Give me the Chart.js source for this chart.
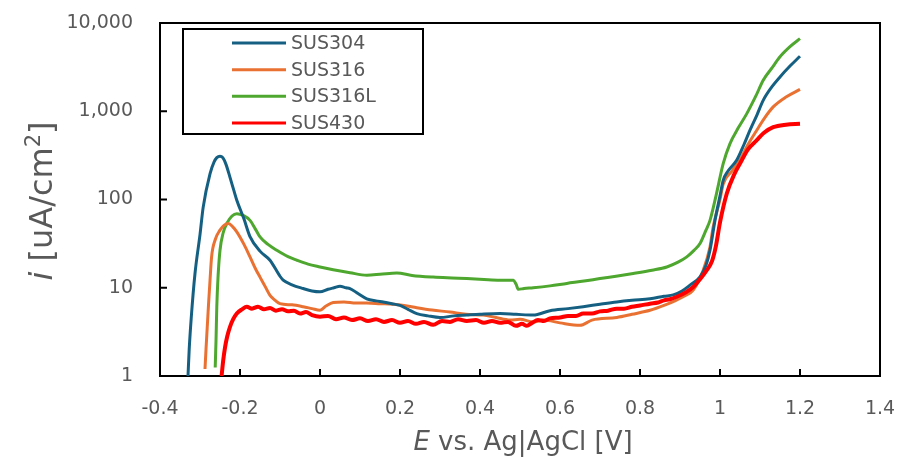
<!DOCTYPE html>
<html>
<head>
<meta charset="utf-8">
<title>Polarization curves</title>
<script src="https://cdn.jsdelivr.net/npm/chart.js@4.4.1/dist/chart.umd.min.js"></script>
<style>
  html, body { margin: 0; padding: 0; background: #ffffff; }
  #wrap { width: 898px; height: 459px; position: relative; }
</style>
</head>
<body>
<div id="wrap"><canvas id="myChart" width="898" height="459"></canvas></div>
<script>
// Series names and colours
const seriesNames = ['SUS304', 'SUS316', 'SUS316L', 'SUS430'];
const seriesColors = ['#156082', '#E97132', '#4EA72E', '#FF0000'];

// Tick values
const xTicks = [-0.4, -0.2, 0, 0.2, 0.4, 0.6, 0.8, 1, 1.2, 1.4];
const yTicks = [1, 10, 100, 1000, 10000];

// SUS304: potential (V) and current density (uA/cm2)
const e304 = [-0.330, -0.327, -0.322, -0.3125, -0.300, -0.292, -0.275, -0.265, -0.258, -0.250, -0.243, -0.235,
  -0.225, -0.215, -0.208, -0.190, -0.175, -0.150, -0.125, -0.100, -0.092, -0.070, -0.042, -0.020, 0.000, 0.020,
  0.035, 0.050, 0.065, 0.075, 0.095, 0.117, 0.140, 0.158, 0.180, 0.200, 0.220, 0.242, 0.270, 0.300, 0.335,
  0.367, 0.400, 0.450, 0.490, 0.533, 0.575, 0.620, 0.658, 0.700, 0.742, 0.780, 0.825, 0.860, 0.883, 0.905,
  0.925, 0.950, 0.965, 0.975, 0.9875, 1.000, 1.008, 1.020, 1.042, 1.060, 1.075, 1.092, 1.108, 1.130, 1.150,
  1.175, 1.200];
const i304 = [1.0, 2.0, 4.5, 14.5, 40, 82, 195, 265, 298, 310, 298, 250,
  178, 125, 98, 60, 38, 26, 20.5, 13.5, 12.2, 10.8, 9.8, 9.2, 9.0, 9.6,
  10.0, 10.4, 10.0, 9.8, 8.6, 7.5, 7.1, 6.9, 6.6, 6.3, 5.7, 5.1, 4.8, 4.6, 4.8,
  4.9, 5.0, 5.1, 5.0, 4.9, 5.5, 5.8, 6.1, 6.5, 6.9, 7.2, 7.5, 8.0, 8.3, 9.2,
  10.7, 13.3, 18, 26.6, 58, 110, 165, 210, 280, 420, 610, 900, 1330, 1900, 2450,
  3250, 4200];

// SUS316
const e316 = [-0.2875, -0.285, -0.282, -0.279, -0.275, -0.271, -0.262, -0.250, -0.240, -0.229, -0.218, -0.208,
  -0.190, -0.175, -0.160, -0.150, -0.138, -0.125, -0.112, -0.100, -0.070, -0.042, -0.020, 0.000, 0.015, 0.033,
  0.060, 0.090, 0.117, 0.150, 0.183, 0.210, 0.242, 0.280, 0.325, 0.365, 0.408, 0.440, 0.475, 0.500, 0.533,
  0.560, 0.600, 0.650, 0.680, 0.742, 0.780, 0.825, 0.860, 0.890, 0.910, 0.933, 0.958, 0.975, 0.983, 1.000,
  1.008, 1.030, 1.050, 1.070, 1.092, 1.110, 1.133, 1.165, 1.200];
const i316 = [1.2, 2.0, 3.5, 6.1, 12, 22.4, 35, 45, 51, 53.5, 49, 43,
  31, 22.4, 16, 13.2, 10.5, 8.2, 7.2, 6.6, 6.4, 6.1, 5.8, 5.55, 6.2, 6.8,
  6.9, 6.7, 6.7, 6.6, 6.5, 6.3, 5.95, 5.6, 5.3, 5.0, 4.9, 4.6, 4.3, 4.4, 4.1,
  4.3, 4.0, 3.75, 4.3, 4.6, 5.0, 5.55, 6.3, 7.2, 8.0, 9.4, 15.8, 29, 49, 100,
  150, 210, 280, 420, 610, 820, 1120, 1450, 1770];

// SUS316L
const e316L = [-0.262, -0.260, -0.258, -0.255, -0.250, -0.242, -0.233, -0.220, -0.208, -0.192, -0.175, -0.160,
  -0.150, -0.130, -0.108, -0.080, -0.058, -0.030, 0.000, 0.033, 0.075, 0.117, 0.150, 0.192, 0.230, 0.283,
  0.330, 0.367, 0.410, 0.450, 0.483, 0.490, 0.496, 0.510, 0.533, 0.575, 0.617, 0.660, 0.700, 0.740, 0.783,
  0.830, 0.867, 0.895, 0.917, 0.935, 0.950, 0.965, 0.975, 0.990, 1.008, 1.025, 1.045, 1.067, 1.090, 1.108,
  1.130, 1.150, 1.175, 1.200];
const i316L = [1.25, 2.5, 6.1, 13, 26.6, 42, 53.5, 65, 69, 66, 58, 45,
  37.7, 31, 26.6, 22.5, 20.5, 18.5, 17.2, 16, 14.8, 13.9, 14.2, 14.7, 13.8, 13.2,
  12.9, 12.7, 12.4, 12.2, 12.2, 11.0, 9.6, 9.8, 10.0, 10.5, 11.2, 11.9, 12.7, 13.5, 14.5,
  15.8, 17.2, 19.5, 22.4, 26.5, 31.7, 45, 58, 110, 255, 430, 640, 940, 1500, 2250,
  3100, 4150, 5400, 6650];

// SUS430
const e430 = [-0.246, -0.242, -0.2375, -0.232, -0.225, -0.217, -0.208, -0.195, -0.183, -0.170, -0.155, -0.140,
  -0.125, -0.110, -0.095, -0.080, -0.065, -0.050, -0.035, -0.020, 0.000, 0.020, 0.040, 0.060, 0.080, 0.100,
  0.120, 0.140, 0.160, 0.180, 0.200, 0.220, 0.240, 0.260, 0.283, 0.305, 0.325, 0.345, 0.367, 0.390, 0.410,
  0.430, 0.450, 0.470, 0.490, 0.505, 0.517, 0.530, 0.545, 0.560, 0.575, 0.600, 0.620, 0.640, 0.658, 0.680,
  0.700, 0.720, 0.742, 0.760, 0.780, 0.800, 0.825, 0.845, 0.860, 0.875, 0.892, 0.915, 0.933, 0.950, 0.967,
  0.980, 0.990, 1.000, 1.017, 1.035, 1.050, 1.070, 1.092, 1.110, 1.133, 1.165, 1.200];
const i430 = [1.0, 1.5, 2.1, 2.8, 3.6, 4.4, 5.1, 5.7, 6.1, 5.8, 6.1, 5.7,
  5.9, 5.5, 5.7, 5.4, 5.5, 5.1, 5.3, 4.9, 4.7, 4.8, 4.4, 4.6, 4.3, 4.5,
  4.2, 4.4, 4.1, 4.3, 4.0, 4.2, 3.9, 4.1, 3.8, 4.2, 4.1, 4.4, 4.2, 4.3, 4.0,
  4.2, 4.0, 4.1, 3.7, 3.9, 3.7, 4.0, 4.3, 4.2, 4.5, 4.6, 4.8, 4.8, 5.1, 5.1,
  5.4, 5.5, 5.8, 5.8, 6.1, 6.3, 6.6, 6.8, 7.2, 7.4, 7.9, 8.9, 10.2, 12.5, 15.8,
  20, 30, 55, 117, 190, 255, 370, 470, 570, 660, 705, 720];

const seriesE = [e304, e316, e316L, e430];
const seriesI = [i304, i316, i316L, i430];
const drawOrder = [2, 3, 4, 1];
const lineWidths = [3, 3, 3, 4];

const textColor = '#595959';
const fontFamily = '"DejaVu Sans", sans-serif';

// Builds the {x, y} points for each dataset
const datasets = seriesNames.map((name, k) => ({
  label: name,
  data: seriesE[k].map((e, j) => ({ x: e, y: seriesI[k][j] })),
  borderColor: seriesColors[k],
  backgroundColor: seriesColors[k],
  borderWidth: lineWidths[k],
  pointRadius: 0,
  showLine: true,
  fill: false,
  cubicInterpolationMode: 'monotone',
  order: drawOrder[k],
}));

// Frame, inner tick marks, legend box and axis titles
const decorations = {
  id: 'decorations',
  beforeDatasetsDraw(chart) {
    const { ctx, chartArea } = chart;
    const xs = chart.scales.x;
    const ys = chart.scales.y;
    ctx.save();
    ctx.strokeStyle = '#000000';
    ctx.lineWidth = 2;
    ctx.strokeRect(chartArea.left, chartArea.top, chartArea.right - chartArea.left, chartArea.bottom - chartArea.top);
    ctx.beginPath();
    xTicks.slice(1, -1).forEach(v => {
      const px = xs.getPixelForValue(v);
      ctx.moveTo(px, chartArea.bottom);
      ctx.lineTo(px, chartArea.bottom - 7);
    });
    yTicks.slice(1, -1).forEach(v => {
      const py = ys.getPixelForValue(v);
      ctx.moveTo(chartArea.left, py);
      ctx.lineTo(chartArea.left + 7, py);
    });
    ctx.stroke();
    ctx.restore();
  },
  afterDraw(chart) {
    const { ctx } = chart;
    ctx.save();

    // legend
    ctx.fillStyle = '#ffffff';
    ctx.fillRect(183, 29, 240, 105);
    ctx.strokeStyle = '#000000';
    ctx.lineWidth = 2;
    ctx.strokeRect(183, 29, 240, 105);
    const rowY = [43, 69.7, 96.3, 123];
    ctx.font = '19px ' + fontFamily;
    ctx.textBaseline = 'middle';
    ctx.textAlign = 'left';
    seriesNames.forEach((name, k) => {
      ctx.strokeStyle = seriesColors[k];
      ctx.lineWidth = 3;
      ctx.beginPath();
      ctx.moveTo(232, rowY[k]);
      ctx.lineTo(286, rowY[k]);
      ctx.stroke();
      ctx.fillStyle = textColor;
      ctx.fillText(name, 291, rowY[k] + 1);
    });

    // x title: "E vs. Ag|AgCl [V]"
    ctx.fillStyle = textColor;
    ctx.textBaseline = 'alphabetic';
    const xItalic = 'italic 26px ' + fontFamily;
    const xNormal = '26px ' + fontFamily;
    ctx.font = xItalic;
    const wE = ctx.measureText('E').width;
    ctx.font = xNormal;
    const xRest = ' vs. Ag|AgCl [V]';
    const wRest = ctx.measureText(xRest).width;
    let x0 = 523 - (wE + wRest) / 2;
    ctx.font = xItalic;
    ctx.fillText('E', x0, 450);
    ctx.font = xNormal;
    ctx.fillText(xRest, x0 + wE, 450);

    // y title: "i [uA/cm²]"
    ctx.translate(52, 201);
    ctx.rotate(-Math.PI / 2);
    const yItalic = 'italic 32px ' + fontFamily;
    const yNormal = '32px ' + fontFamily;
    const ySup = '21px ' + fontFamily;
    ctx.font = yItalic;
    const wi = ctx.measureText('i').width;
    ctx.font = yNormal;
    const wA = ctx.measureText(' [uA/cm').width;
    const wB = ctx.measureText(']').width;
    ctx.font = ySup;
    const w2 = ctx.measureText('2').width;
    let y0 = -(wi + wA + w2 + wB) / 2;
    ctx.font = yItalic;
    ctx.fillText('i', y0, 0);
    y0 += wi;
    ctx.font = yNormal;
    ctx.fillText(' [uA/cm', y0, 0);
    y0 += wA;
    ctx.font = ySup;
    ctx.fillText('2', y0, -12);
    y0 += w2;
    ctx.font = yNormal;
    ctx.fillText(']', y0, 0);
    ctx.restore();
  }
};

const ctx = document.getElementById('myChart');

const chart = new Chart(ctx, {
  type: 'scatter',
  data: { datasets },
  options: {
    responsive: false,
    animation: false,
    layout: { padding: { top: 23, right: 18, left: 0, bottom: 0 } },
    plugins: {
      legend: { display: false },
      tooltip: { enabled: false },
    },
    scales: {
      x: {
        type: 'linear',
        min: -0.4,
        max: 1.4,
        grid: { display: false, drawTicks: false },
        border: { display: false },
        afterBuildTicks: scale => { scale.ticks = xTicks.map(v => ({ value: v })); },
        afterFit: scale => {
          scale.height = 83;
          scale.paddingLeft = 0;
          scale.paddingRight = 0;
        },
        ticks: {
          color: textColor,
          padding: 22,
          font: { family: fontFamily, size: 19 },
          maxRotation: 0,
          autoSkip: false,
          callback: v => String(Number(v.toFixed(1))),
        },
      },
      y: {
        type: 'logarithmic',
        min: 1,
        max: 10000,
        grid: { display: false, drawTicks: false },
        border: { display: false },
        afterBuildTicks: scale => { scale.ticks = yTicks.map(v => ({ value: v })); },
        afterFit: scale => {
          scale.width = 160;
          scale.paddingTop = 0;
          scale.paddingBottom = 0;
        },
        ticks: {
          color: textColor,
          padding: 27,
          font: { family: fontFamily, size: 19 },
          autoSkip: false,
          callback: v => Number(v).toLocaleString('en-US'),
        },
      },
    },
  },
  plugins: [decorations],
});
</script>
</body>
</html>
